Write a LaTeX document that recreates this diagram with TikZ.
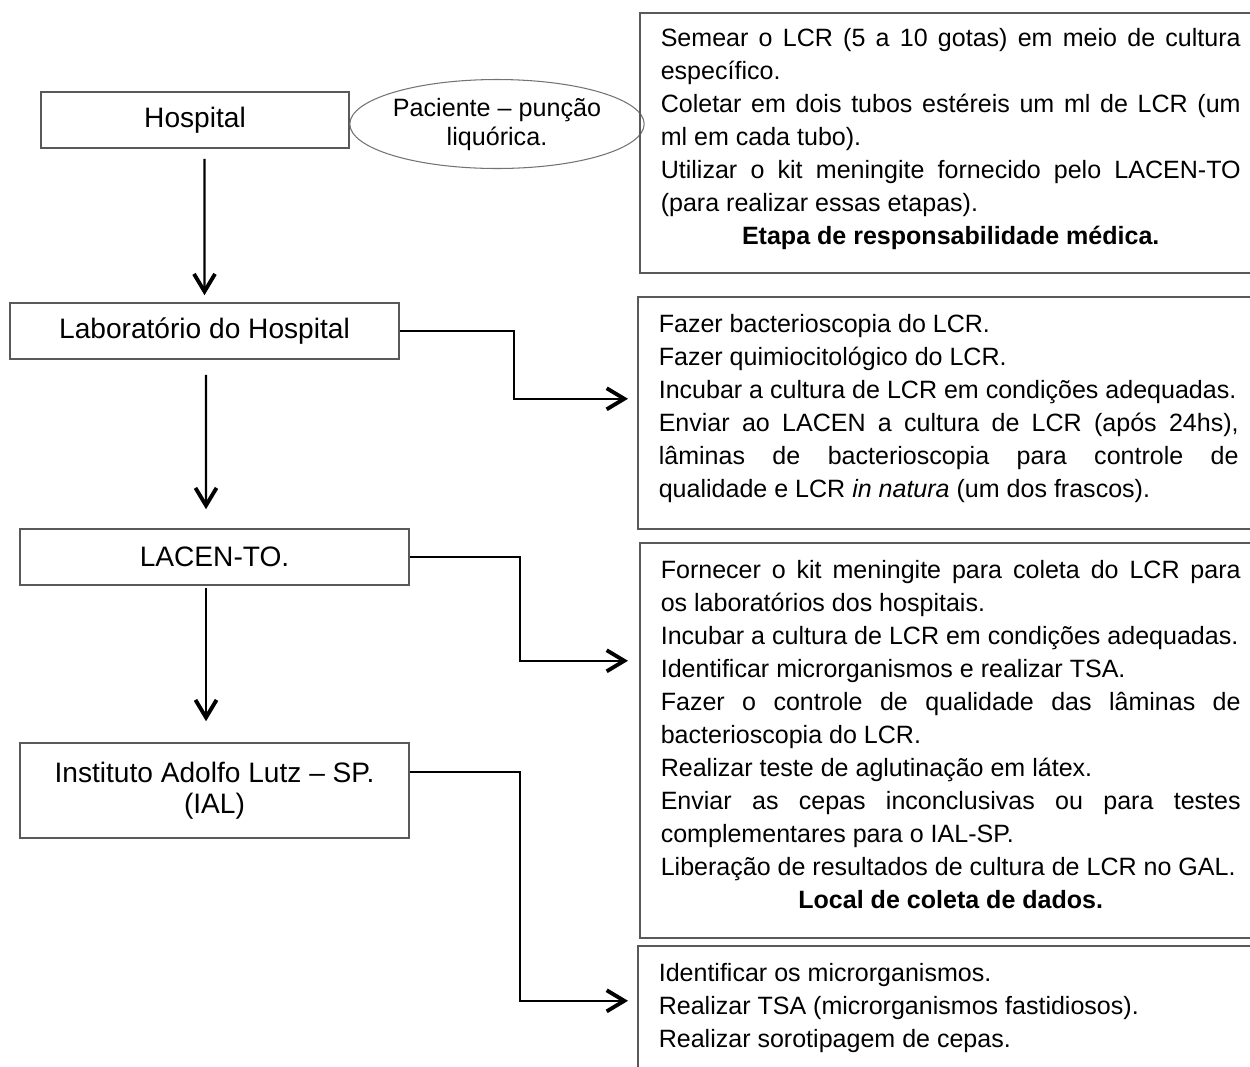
\documentclass[tikz,border=0pt]{standalone}
\usepackage{fontspec}
\setmainfont{Liberation Sans}
\usetikzlibrary{positioning, arrows.meta, shapes.geometric}
\setlength{\parindent}{0pt}
\tolerance=10000
\hyphenpenalty=10000
\exhyphenpenalty=10000
\newcommand{\tailgap}[1]{\par\vspace{#1}\hrule height 0pt width 0pt}

\begin{document}
\begin{tikzpicture}[x=0.02cm, y=-0.02cm,
    % Styles
    place/.style={draw=black!65, line width=0.9pt, font=\fontsize{16}{17.6}\selectfont, align=center, minimum width=7.78cm, minimum height=1.12cm, inner sep=0pt},
    task/.style={draw=black!65, line width=0.9pt, anchor=north west, font=\fontsize{14.25}{18.8}\selectfont, text width=11.6cm, align=justify, inner xsep=0.42cm, inner ysep=0pt},
    patient/.style={draw=black!55, line width=0.6pt, ellipse, minimum width=5.76cm, minimum height=1.78cm, inner sep=0pt, align=center, font=\fontsize{14.3}{16.5}\selectfont},
    arrow/.style={-{Straight Barb[length=10pt, width=12pt, line width=2.2pt]}, line width=1.3pt, black},
]
\useasboundingbox (0,0) rectangle (1250,1066);

% Hospital and patient
\node[place, minimum width=6.16cm] (hosp) at (195,120) {Hospital};
\node[patient] (patient) at (497,124) {Paciente -- punção\\liquórica.};

% Hospital laboratory
\node[place] (lab) at (204.5,331) {Laboratório do Hospital};
\draw[arrow, shorten <=0.2cm, shorten >=0.14cm] ([xshift=0.19cm]hosp.south) -- (lab.north);

% LACEN
\node[place] (lacen) at (214.5,557) {LACEN-TO.};
\draw[arrow, shorten <=0.3cm, shorten >=0.38cm] ([xshift=0.03cm]lab.south) -- ([xshift=-0.17cm]lacen.north);

% IAL
\node[place, minimum height=1.9cm] (ial) at (214.5,790.5) {Instituto Adolfo Lutz -- SP.\\(IAL)};
\draw[arrow, shorten <=0.04cm, shorten >=0.42cm] ([xshift=-0.17cm]lacen.south) -- ([xshift=-0.17cm]ial.north);

% Tasks of each step
\node[task, minimum height=5.2cm] (hosptasks) at (639,12) {
Semear o LCR (5 a 10 gotas) em meio de cultura\linebreak
específico.\par
Coletar em dois tubos estéreis um ml de LCR (um\linebreak
ml em cada tubo).\par
Utilizar o kit meningite fornecido pelo LACEN-TO\linebreak
(para realizar essas etapas).\par
{\centering\textbf{Etapa de responsabilidade médica.}\par}
\tailgap{0.16cm}
};

\node[task, minimum height=4.64cm] (labtasks) at (637,296) {
Fazer bacterioscopia do LCR.\par
Fazer quimiocitológico do LCR.\par
Incubar a cultura de LCR em condições adequadas.\par
Enviar ao LACEN a cultura de LCR (após 24hs),\linebreak
lâminas de bacterioscopia para controle de\linebreak
qualidade e LCR \textit{in natura} (um dos frascos).
\tailgap{0.16cm}
};
\draw[arrow, shorten >=0.18cm] (lab.east) -- ++(114,0) |- ([yshift=0.28cm]labtasks.west);

\node[task, minimum height=7.9cm] (lacentasks) at (639,542) {
Fornecer o kit meningite para coleta do LCR para\linebreak
os laboratórios dos hospitais.\par
Incubar a cultura de LCR em condições adequadas.\par
Identificar microrganismos e realizar TSA.\par
Fazer o controle de qualidade das lâminas de\linebreak
bacterioscopia do LCR.\par
Realizar teste de aglutinação em látex.\par
Enviar as cepas inconclusivas ou para testes\linebreak
complementares para o IAL-SP.\par
Liberação de resultados de cultura de LCR no GAL.\par
{\centering\textbf{Local de coleta de dados.}\par}
\tailgap{0.24cm}
};
\draw[arrow, shorten >=0.22cm] (lacen.east) -- ++(110,0) |- ([yshift=1.59cm]lacentasks.west);

\node[task, minimum height=2.5cm] (ialtasks) at (637,945) {
Identificar os microrganismos.\par
Realizar TSA (microrganismos fastidiosos).\par
Realizar sorotipagem de cepas.\par
};
\draw[arrow, shorten >=0.18cm] ([yshift=0.37cm]ial.east) -- ++(110,0) |- ([yshift=0.15cm]ialtasks.west);

\end{tikzpicture}
\end{document}
